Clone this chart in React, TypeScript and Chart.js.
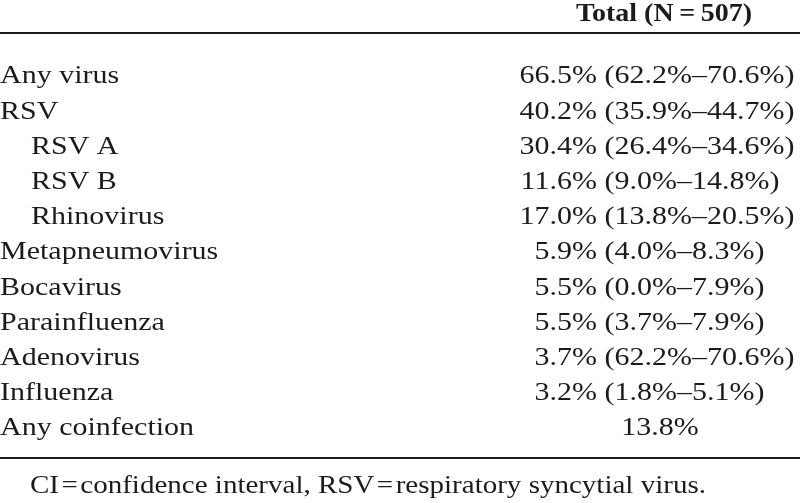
import React, { useEffect, useRef } from "react";
import { Chart, registerables } from "chart.js";
Chart.register(...registerables);

const rowLabels = [
  "Any virus",
  "RSV",
  "RSV A",
  "RSV B",
  "Rhinovirus",
  "Metapneumovirus",
  "Bocavirus",
  "Parainfluenza",
  "Adenovirus",
  "Influenza",
  "Any coinfection",
];
const indentLevels = [0, 0, 1, 1, 1, 0, 0, 0, 0, 0, 0];
const estimates = [66.5, 40.2, 30.4, 11.6, 17.0, 5.9, 5.5, 5.5, 3.7, 3.2, 13.8];
const ciLower: (number | null)[] = [62.2, 35.9, 26.4, 9.0, 13.8, 4.0, 0.0, 3.7, 62.2, 1.8, null];
const ciUpper: (number | null)[] = [70.6, 44.7, 34.6, 14.8, 20.5, 8.3, 7.9, 7.9, 70.6, 5.1, null];
const columnHeader = "Total (N\u2009=\u2009507)";
const footnote = "CI\u200A=\u200Aconfidence interval, RSV\u200A=\u200Arespiratory syncytial virus.";

const SERIF = "'Liberation Serif', 'Times New Roman', serif";
const INK = "#1c1a1b";
const SY = 0.87;

function drawText(
  ctx: CanvasRenderingContext2D,
  text: string,
  x: number,
  y: number,
  align: CanvasTextAlign,
  font: string,
  sy: number = SY,
  fitWidth?: number
) {
  ctx.save();
  ctx.font = font;
  ctx.textAlign = align;
  ctx.textBaseline = "alphabetic";
  ctx.fillStyle = INK;
  let sx = 1;
  if (fitWidth) {
    const w = ctx.measureText(text).width;
    if (w > 0) sx = fitWidth / w;
  }
  ctx.translate(x, y);
  ctx.scale(sx, sy);
  ctx.fillText(text, 0, 0);
  ctx.restore();
}

const fmt = (v: number) => v.toFixed(1) + "%";

const tablePlugin = {
  id: "tableText",
  afterDraw(chart: any) {
    const ctx: CanvasRenderingContext2D = chart.ctx;
    const yScale = chart.scales.y;
    const W = chart.width;
    const bodyFont = `30px ${SERIF}`;
    const headFont = `bold 28px ${SERIF}`;
    const noteFont = `27px ${SERIF}`;

    ctx.save();
    // header
    drawText(ctx, columnHeader, 664, 21, "center", headFont);
    // rules
    ctx.fillStyle = INK;
    ctx.fillRect(0, 32, W, 2);
    ctx.fillRect(0, 457, W, 2);

    const pctRight = 597;
    rowLabels.forEach((label, i) => {
      const yb = yScale.getPixelForValue(i) + 6.3;
      drawText(ctx, label, indentLevels[i] * 31, yb, "left", bodyFont);
      const lo = ciLower[i];
      const hi = ciUpper[i];
      if (lo == null || hi == null) {
        drawText(ctx, fmt(estimates[i]), 660, yb, "center", bodyFont);
      } else {
        drawText(ctx, fmt(estimates[i]), pctRight, yb, "right", bodyFont);
        drawText(ctx, ` (${fmt(lo)}\u2013${fmt(hi)})`, pctRight, yb, "left", bodyFont);
      }
    });

    drawText(ctx, footnote, 30, 493, "left", noteFont, 0.97, 676);
    ctx.restore();
  },
};

export default function App() {
  const ref = useRef<HTMLCanvasElement | null>(null);
  useEffect(() => {
    if (!ref.current) return;
    const chart = new Chart(ref.current, {
      type: "bar",
      data: {
        labels: rowLabels,
        datasets: [
          {
            data: estimates,
            backgroundColor: "rgba(0,0,0,0)",
            borderWidth: 0,
          },
        ],
      },
      options: {
        indexAxis: "y",
        responsive: false,
        animation: false,
        events: [],
        layout: { padding: { top: 77, bottom: 74, left: 0, right: 0 } },
        scales: {
          x: { display: false, min: 0, max: 100 },
          y: { display: false, offset: false },
        },
        plugins: { legend: { display: false }, tooltip: { enabled: false } },
      },
      plugins: [tablePlugin],
    });
    return () => chart.destroy();
  }, []);
  return (
    <div style={{ position: "absolute", left: 0, top: 0, width: 800, height: 503, background: "#fff" }}>
      <canvas ref={ref} width={800} height={503} style={{ display: "block", width: 800, height: 503 }} />
    </div>
  );
}
